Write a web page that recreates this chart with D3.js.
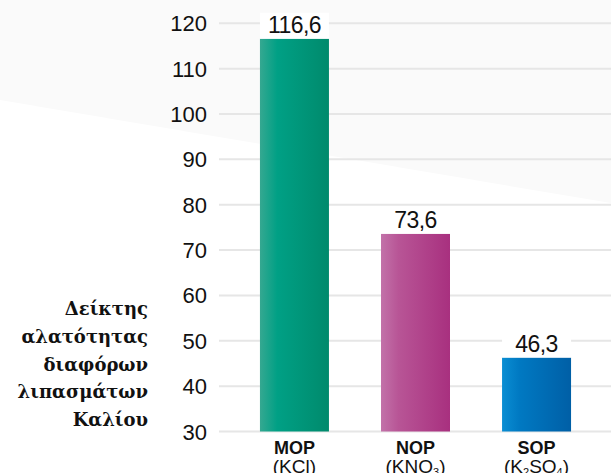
<!DOCTYPE html>
<html><head><meta charset="utf-8">
<script src="https://cdn.jsdelivr.net/npm/d3@7"></script>
<style>body{margin:0;background:#fff}svg{display:block}</style>
</head><body>
<svg id="c" width="611" height="473"></svg>
<script>
const categories = ["MOP", "NOP", "SOP"];
const formulas = [[["(KCl)", false]], [["(KNO", false], ["3", true], [")", false]], [["(K", false], ["2", true], ["SO", false], ["4", true], [")", false]]];
const values = [116.6, 73.6, 46.3];
const valueLabels = ["116,6", "73,6", "46,3"];
const yTicks = [30, 40, 50, 60, 70, 80, 90, 100, 110, 120];
const titleLines = ["Δείκτης", "αλατότητας", "διαφόρων", "λιπασμάτων", "Καλίου"];
const gradients = [["#35a891", "#00a085", "#008a6c"], ["#c272a9", "#b85596", "#a8307f"], ["#0a8ed3", "#0079c2", "#005fa6"]];

const svg = d3.select("#c");
const defs = svg.append("defs");
gradients.forEach((g, i) => {
  const lg = defs.append("linearGradient").attr("id", "g" + i).attr("x1", "0").attr("x2", "1").attr("y1", "0").attr("y2", "0");
  lg.append("stop").attr("offset", "0").attr("stop-color", g[0]);
  lg.append("stop").attr("offset", "0.25").attr("stop-color", g[1]);
  lg.append("stop").attr("offset", "1").attr("stop-color", g[2]);
});

// background diagonal shade
svg.append("path").attr("d", "M0,0 L611,0 L611,203 L0,100 Z").attr("fill", "#fafafa");

const y = d3.scaleLinear().domain([30, 120]).range([431.5, 23.3]);
const x = d3.scaleBand().domain(categories).range([220, 611]).paddingInner(0.43).paddingOuter(0.33);

// gridlines
svg.append("g").selectAll("line").data(yTicks).join("line")
  .attr("x1", 219).attr("x2", 611)
  .attr("y1", d => y(d)).attr("y2", d => y(d))
  .attr("stroke", "#e6e6e6").attr("stroke-width", 2);

// tick labels
svg.append("g").selectAll("text").data(yTicks).join("text")
  .attr("x", 207).attr("y", d => y(d) + 8)
  .attr("text-anchor", "end")
  .attr("font-family", "Liberation Sans, Arial, sans-serif")
  .attr("font-size", 22).attr("fill", "#111")
  .text(d => d);

// bars
svg.append("g").selectAll("rect").data(values).join("rect")
  .attr("x", (d, i) => x(categories[i]))
  .attr("width", x.bandwidth())
  .attr("y", d => y(d))
  .attr("height", d => y(30) - y(d))
  .attr("fill", (d, i) => `url(#g${i})`);

// value label boxes
svg.append("g").selectAll("rect").data(values).join("rect")
  .attr("x", (d, i) => x(categories[i]))
  .attr("width", x.bandwidth())
  .attr("y", d => y(d) - 26)
  .attr("height", 26)
  .attr("fill", "#fff");

svg.append("g").selectAll("text").data(values).join("text")
  .attr("x", (d, i) => x(categories[i]) + x.bandwidth() / 2)
  .attr("y", d => y(d) - 6)
  .attr("text-anchor", "middle")
  .attr("font-family", "Liberation Sans, Arial, sans-serif")
  .attr("font-size", 23).attr("fill", "#111")
  .attr("letter-spacing", -0.6)
  .text((d, i) => valueLabels[i]);

// category labels
const cat = svg.append("g");
categories.forEach((c, i) => {
  const cx = x(c) + x.bandwidth() / 2;
  cat.append("text").attr("x", cx).attr("y", 454)
    .attr("text-anchor", "middle")
    .attr("font-family", "Liberation Sans, Arial, sans-serif")
    .attr("font-size", 18).attr("font-weight", "bold").attr("fill", "#111")
    .text(c);
  const t = cat.append("text").attr("x", cx).attr("y", 472.5)
    .attr("text-anchor", "middle")
    .attr("font-family", "Liberation Sans, Arial, sans-serif")
    .attr("font-size", 19).attr("fill", "#111");
  let shift = 0;
  formulas[i].forEach(([s, sub]) => {
    const ts = t.append("tspan").text(s);
    if (sub) { ts.attr("font-size", 11).attr("dy", 3 - shift); shift = 3; }
    else { ts.attr("dy", -shift); shift = 0; }
  });
});

// y-axis title
svg.append("g").selectAll("text").data(titleLines).join("text")
  .attr("x", 148).attr("y", (d, i) => 315 + i * 27.8)
  .attr("text-anchor", "end")
  .attr("font-family", "DejaVu Serif, Liberation Serif, serif")
  .attr("font-size", 18).attr("font-weight", "bold").attr("fill", "#111")
  .text(d => d);
</script>
</body></html>
